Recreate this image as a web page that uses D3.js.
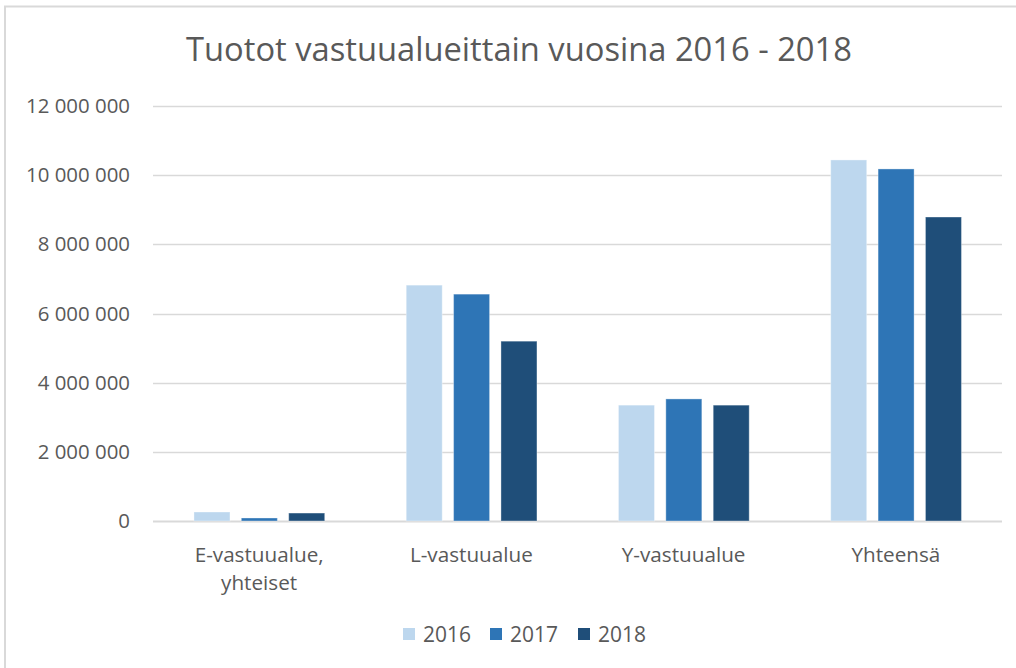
<!DOCTYPE html>
<html>
<head>
<meta charset="utf-8">
<script src="https://cdn.jsdelivr.net/npm/d3@7"></script>
<style>
  body { margin: 0; background: #fff; }
  text { font-family: "Open Sans", "Noto Sans", sans-serif; fill: #595959; }
</style>
</head>
<body>
<div id="chart"></div>
<script>
// data
const categories = ["E-vastuualue, yhteiset", "L-vastuualue", "Y-vastuualue", "Yhteensä"];
const years = ["2016", "2017", "2018"];
const values2016 = [260000, 6820000, 3350000, 10440000];
const values2017 = [87000, 6560000, 3530000, 10180000];
const values2018 = [230000, 5200000, 3350000, 8790000];
const yTicks = [0, 2000000, 4000000, 6000000, 8000000, 10000000, 12000000];
const colors = ["#bdd7ee", "#2e75b6", "#1f4e79"];

const series = [values2016, values2017, values2018];

const W = 1016, H = 668;
const margin = {top: 106, right: 14, bottom: 147, left: 153};
const width = W - margin.left - margin.right,
    height = H - margin.top - margin.bottom;

const svg = d3.select("#chart").append("svg")
    .attr("width", W)
    .attr("height", H);

// outer frame of the chart
svg.append("path")
    .attr("d", "M5,668 V6.5 H1016")
    .attr("fill", "none")
    .attr("stroke", "#d9d9d9")
    .attr("stroke-width", 2);

// font size that makes a string a given width
function sizeFor(str, target) {
    const t = svg.append("text").attr("font-size", 20).text(str);
    const w = t.node().getComputedTextLength();
    t.remove();
    return 20 * target / w;
}
const fsTitle = sizeFor("Tuotot vastuualueittain vuosina 2016 - 2018", 666);
const fsTick = sizeFor("12 000 000", 104);
const fsCat = sizeFor("L-vastuualue", 123);
const fsLeg = sizeFor("2016", 48);

svg.append("text")
    .attr("x", 519)
    .attr("y", 61)
    .attr("text-anchor", "middle")
    .attr("font-size", fsTitle)
    .text("Tuotot vastuualueittain vuosina 2016 - 2018");

const g = svg.append("g")
    .attr("transform", "translate(" + margin.left + "," + margin.top + ")");

const x0 = d3.scaleBand()
    .domain(categories)
    .range([0, width]);

const bw = x0.bandwidth();
const x1 = d3.scaleBand()
    .domain(years)
    .range([bw * 0.193, bw * 0.809])
    .paddingInner(0.24);

const y = d3.scaleLinear()
    .domain([0, 12000000])
    .range([height, 0]);

const fmt = d => d3.format(",")(d).replace(/,/g, " ");

// gridlines
g.append("g")
    .selectAll("line")
    .data(yTicks)
    .enter().append("line")
    .attr("x1", 0)
    .attr("x2", width)
    .attr("y1", d => Math.round(y(d)) + 0.5)
    .attr("y2", d => Math.round(y(d)) + 0.5)
    .attr("stroke", "#d9d9d9")
    .attr("stroke-width", d => d === 0 ? 2 : 1.5);

// y labels
const yAxis = g.append("g")
    .call(d3.axisLeft(y).tickValues(yTicks).tickFormat(fmt).tickSize(0).tickPadding(23));
yAxis.select(".domain").remove();
yAxis.selectAll("text")
    .attr("font-size", fsTick)
    .attr("fill", "#595959")
    .style("font-family", "\"Open Sans\", sans-serif");

// bars
const groups = g.selectAll(".grp")
    .data(categories)
    .enter().append("g")
    .attr("class", "grp")
    .attr("transform", d => "translate(" + x0(d) + ",0)");

groups.selectAll("rect")
    .data((d, i) => years.map((yr, j) => ({year: yr, value: series[j][i], c: colors[j]})))
    .enter().append("rect")
    .attr("x", d => x1(d.year))
    .attr("width", x1.bandwidth())
    .attr("y", d => y(d.value))
    .attr("height", d => height - y(d.value))
    .attr("fill", d => d.c)
    .attr("stroke", "#fff")
    .attr("stroke-opacity", 0.35)
    .attr("stroke-width", 1);

// category labels (wrapped at comma)
categories.forEach(c => {
    const parts = c.indexOf(",") >= 0 ? [c.slice(0, c.indexOf(",") + 1), c.slice(c.indexOf(",") + 2)] : [c];
    parts.forEach((p, i) => {
        g.append("text")
            .attr("text-anchor", "middle")
            .attr("font-size", fsCat)
            .attr("x", x0(c) + bw / 2)
            .attr("y", height + 41 + i * 28)
            .text(p);
    });
});

// legend
const legend = svg.append("g")
    .attr("transform", "translate(403,628)");
const legX = [0, 87, 175];
years.forEach((yr, i) => {
    legend.append("rect")
        .attr("x", legX[i])
        .attr("y", 0)
        .attr("width", 12)
        .attr("height", 12)
        .attr("fill", colors[i]);
    legend.append("text")
        .attr("x", legX[i] + 20)
        .attr("y", 14)
        .attr("font-size", fsLeg)
        .text(yr);
});
</script>
</body>
</html>
